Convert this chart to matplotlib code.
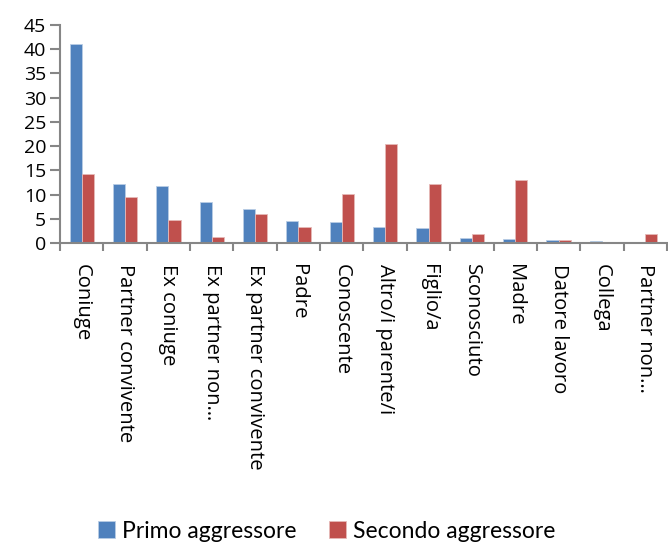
import matplotlib
matplotlib.use("Agg")
import matplotlib.pyplot as plt
import numpy as np

categories = ["Coniuge", "Partner convivente", "Ex coniuge", "Ex partner non…",
              "Ex partner convivente", "Padre", "Conoscente", "Altro/i parente/i",
              "Figlio/a", "Sconosciuto", "Madre", "Datore lavoro", "Collega",
              "Partner non…"]
primo = [41.1, 12.1, 11.8, 8.5, 7.0, 4.5, 4.4, 3.2, 3.0, 1.1, 0.8, 0.7, 0.4, 0.0]
secondo = [14.2, 9.4, 4.7, 1.2, 6.0, 3.3, 10.1, 20.4, 12.2, 1.9, 12.9, 0.55, 0.0, 1.9]
yticks = [0, 5, 10, 15, 20, 25, 30, 35, 40, 45]

plt.rcParams['font.family'] = ['Lato', 'DejaVu Sans']

fig = plt.figure(figsize=(6.68, 5.47), dpi=100)
ax = fig.add_axes([0.0898, 0.5558, 0.9087, 0.3985])

x = np.arange(len(categories))
w = 0.28
ax.bar(x - w/2, primo, w, color="#4F81BD", label="Primo aggressore", edgecolor="#b9cde5", linewidth=0.6)
ax.bar(x + w/2, secondo, w, color="#C0504D", label="Secondo aggressore", edgecolor="#e6b9b8", linewidth=0.6)

ax.set_xlim(-0.5, len(categories) - 0.5)
ax.set_ylim(0, 45)
ax.set_yticks(yticks)
ax.set_yticklabels([str(v) for v in yticks], fontsize=14, family=['Open Sans', 'DejaVu Sans'])
ax.set_xticks(x)
ax.set_xticklabels(categories, rotation=270, fontsize=14.6, va="top", ha="center",
                   family=['Open Sans', 'DejaVu Sans'])
ax.tick_params(axis="x", length=0, pad=15)
ax.set_xticks(np.arange(-0.5, len(categories)), minor=True)
ax.tick_params(axis="x", which="minor", length=6, color="#868686", width=1.5)
ax.tick_params(axis="y", length=7, color="#868686", width=1.5, pad=3)

for s in ["top", "right"]:
    ax.spines[s].set_visible(False)
for s in ["left", "bottom"]:
    ax.spines[s].set_color("#868686")
    ax.spines[s].set_linewidth(1.5)

leg = fig.legend(loc="center", ncol=2, frameon=False,
                 fontsize=16.5, handlelength=0.75, handleheight=0.75, handletextpad=0.3,
                 columnspacing=1.4)
leg.set_bbox_to_anchor((0.489, 1 - 531/547), transform=fig.transFigure)

fig.savefig("out.png", dpi=100)
